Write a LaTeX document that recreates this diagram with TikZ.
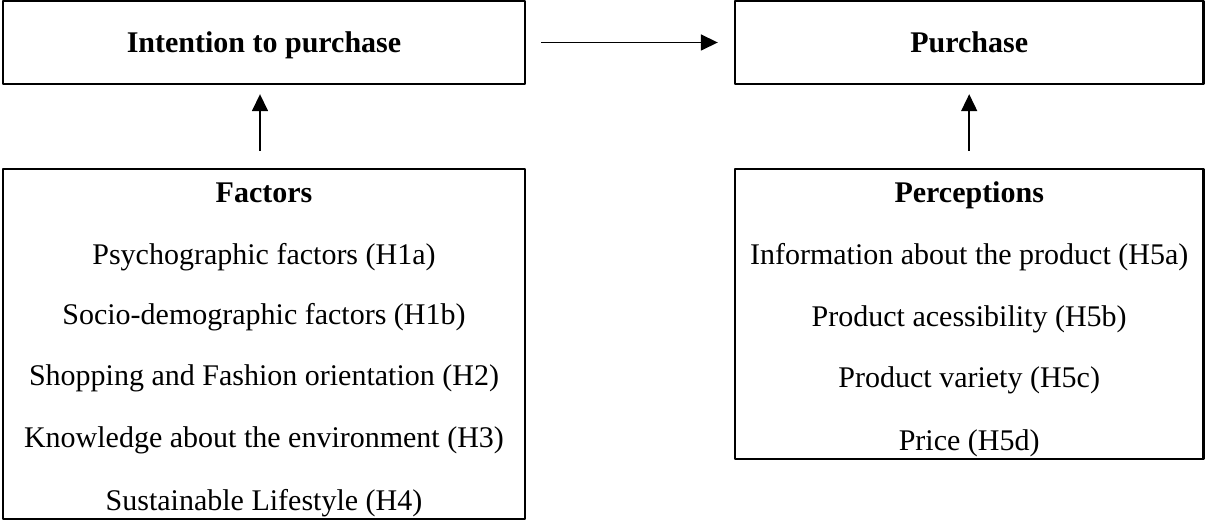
\documentclass[tikz,border=0pt]{standalone}
\usepackage{fontspec}
\setmainfont{Liberation Serif}
\usetikzlibrary{arrows.meta}
\begin{document}
\begin{tikzpicture}[>={Triangle[length=8.5bp,width=8bp]},line join=bevel,
  box/.style={draw,line width=1.2bp,inner sep=0pt},
  title/.style={box,text height=13bp,text depth=3bp,font=\fontsize{15bp}{18bp}\selectfont\bfseries},
  txt/.style={anchor=base,inner sep=0pt,font=\fontsize{15bp}{18bp}\selectfont},
  head/.style={txt,font=\fontsize{15bp}{18bp}\selectfont\bfseries}]
\useasboundingbox (0bp,0bp) rectangle (602.5bp,261bp);
%%
\node (intent) at (132bp,239.75bp) [title,minimum width=261bp,minimum height=41.5bp] {Intention to purchase};
  \node (purch) at (484.6bp,239.75bp) [title,minimum width=234.2bp,minimum height=41.5bp] {Purchase};
  \node (factors) at (132bp,89bp) [box,minimum width=261bp,minimum height=175bp] {};
  \node (percep) at (484.6bp,104bp) [box,minimum width=234.2bp,minimum height=145bp] {};
%
  \node (f_0) at (132bp,159.5bp) [head] {Factors};
  \node (f_1) at (132bp,128.5bp) [txt] {Psychographic factors (H1a)};
  \node (f_2) at (132bp,98.5bp) [txt] {Socio-demographic factors (H1b)};
  \node (f_3) at (132bp,68bp) [txt] {Shopping and Fashion orientation (H2)};
  \node (f_4) at (132bp,37.5bp) [txt] {Knowledge about the environment (H3)};
  \node (f_5) at (132bp,6bp) [txt] {Sustainable Lifestyle (H4)};
%
  \node (p_0) at (484.6bp,159.5bp) [head] {Perceptions};
  \node (p_1) at (484.6bp,128.5bp) [txt] {Information about the product (H5a)};
  \node (p_2) at (484.6bp,97.5bp) [txt] {Product acessibility (H5b)};
  \node (p_3) at (484.6bp,67bp) [txt] {Product variety (H5c)};
  \node (p_4) at (484.6bp,36bp) [txt] {Price (H5d)};
%
  \draw [black,line width=0.8bp,->,shorten <=7.5bp,shorten >=8bp] (intent.east) -- (purch.west);
  \draw [black,line width=0.8bp,->,shorten <=8.5bp,shorten >=4.5bp] ([xshift=-2bp]factors.north) -- ([xshift=-2bp]intent.south);
  \draw [black,line width=0.8bp,->,shorten <=8.5bp,shorten >=4.5bp] (percep.north) -- (purch.south);
%
\end{tikzpicture}
\end{document}
